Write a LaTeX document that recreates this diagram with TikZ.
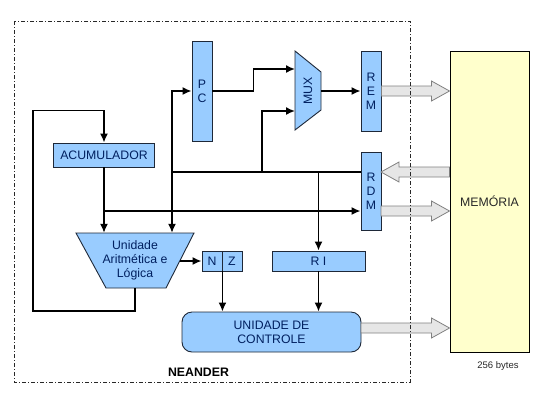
\documentclass[tikz,border=0pt]{standalone}
\usepackage{fontspec}
\setmainfont{Liberation Sans}
\usetikzlibrary{arrows.meta,calc}

% hollow bus arrow: #1 start, #2 tip, #3 direction (1 right, -1 left)
\newcommand{\busarrow}[3]{%
  \draw[bus] ($(#1)+(0,-5)$) -- ($(#2)+(-18*#3,-5)$) -- ($(#2)+(-18*#3,-10)$) -- (#2)
    -- ($(#2)+(-18*#3,10)$) -- ($(#2)+(-18*#3,5)$) -- ($(#1)+(0,5)$) -- cycle;%
}

\begin{document}
\begin{tikzpicture}[x=1pt,y=-1pt,
    unit/.style={draw=r30g40b56,line width=0.9pt,fill=r153g204b255,text=r0g32b96,
      font=\fontsize{12.3}{14}\selectfont,inner sep=0pt,align=center},
    unitshape/.style={draw=r30g40b56,line width=0.9pt,fill=r153g204b255},
    label/.style={text=r0g32b96,font=\fontsize{12.3}{14}\selectfont,inner sep=0pt,align=center},
    wire/.style={line width=1.6pt,-{Latex[length=9pt,width=8pt]}},
    plainwire/.style={line width=1.6pt},
    bus/.style={draw=r128g128b128,fill=r230g230b230,line width=0.8pt}]
  \definecolor{r30g40b56}{RGB}{30,40,56}%
  \definecolor{r153g204b255}{RGB}{153,204,255}%
  \definecolor{r0g32b96}{RGB}{0,32,96}%
  \definecolor{r255g255b204}{RGB}{255,255,204}%
  \definecolor{r128g128b128}{RGB}{128,128,128}%
  \definecolor{r230g230b230}{RGB}{230,230,230}%
  \definecolor{r40g40b40}{RGB}{40,40,40}%
  \useasboundingbox (0,0) rectangle (556,400);

  % Drawing registers
  \node[unit,minimum width=20,minimum height=100] (pc) at (202,91) {P\\C};
  \node[unit,minimum width=20,minimum height=80] (rem) at (371,91) {R\\E\\M};
  \node[unit,minimum width=20,minimum height=78] (rdm) at (371,191) {R\\D\\M};
  \node[unit,minimum width=101,minimum height=24] (acc) at (104,155) {ACUMULADOR};
  \node[unit,minimum width=20,minimum height=20] (flagn) at (212,261) {N};
  \node[unit,minimum width=20,minimum height=20] (flagz) at (232,261) {Z};
  \node[unit,minimum width=93,minimum height=20] (ri) at (318.5,261) {R I};
  \node[unit,minimum width=179,minimum height=40,rounded corners=10pt] (uc) at (271.5,332) {UNIDADE DE\\CONTROLE};

  % Drawing MUX and ULA
  \draw[unitshape] (295,51) -- (321,72) -- (321,110) -- (295,130) -- cycle;
  \node[label,rotate=90] (mux) at (308,91) {MUX};
  \draw[unitshape] (76,233) -- (194,233) -- (166,288) -- (106,288) -- cycle;
  \node[label,minimum width=60,minimum height=55] (alu) at (135,260.5) {Unidade\\Aritmética e\\Lógica};

  % Drawing memory
  \node[draw=black,line width=1pt,fill=r255g255b204,minimum width=79,minimum height=301,
    font=\fontsize{12.3}{14}\selectfont,text=r40g40b40] (mem) at (489.5,201.5) {MEMÓRIA};
  \node[font=\fontsize{9.5}{11}\selectfont,text=r40g40b40] (bytes) at (498,366) {256 bytes};

  % Drawing connections
  \coordinate (loop) at (33,311);
  \coordinate (accbus) at (104,211);
  \coordinate (bus) at (172,172);
  \coordinate (tomux) at (262,172);
  \coordinate (muxin1) at (295,69);
  \coordinate (muxin2) at (295,111);
  \coordinate (muxout) at (321,91);
  \coordinate (aluout) at (180,261);
  \coordinate (rdmout) at (rdm.west |- bus);
  \draw[wire] (alu.south) |- (loop) |- ($(acc.north)+(0,-32)$) -- (acc.north);
  \draw[plainwire] (acc.south) -- (accbus);
  \draw[wire] (accbus) -- (acc.south |- alu.north);
  \draw[wire] (accbus) -- (accbus -| rdm.west);
  \draw[plainwire] (rdmout) -- (bus);
  \draw[wire] (bus) |- (pc.west);
  \draw[wire] (bus) -- (bus |- alu.north);
  \draw[wire] (tomux) |- (muxin2);
  \draw[wire] (ri.north |- bus) -- (ri.north);
  \draw[wire] (pc.east) -- ++(41,0) |- (muxin1);
  \draw[wire] (muxout) -- (rem.west);
  \draw[wire] (aluout) -- (flagn.west);
  \draw[wire] (flagn.south east) -- (flagn.south east |- uc.north);
  \draw[wire] (ri.south) -- (ri.south |- uc.north);

  % Drawing bus arrows to memory
  \coordinate (remtip) at (rem.east -| mem.west);
  \coordinate (rdmin) at (381,172);
  \coordinate (memout) at (mem.west |- rdmin);
  \coordinate (rdmstart) at (381,211);
  \coordinate (rdmtip) at (mem.west |- rdmstart);
  \coordinate (ucout) at (361,328);
  \coordinate (uctip) at (mem.west |- ucout);
  \busarrow{rem.east}{remtip}{1}
  \busarrow{memout}{rdmin}{-1}
  \busarrow{rdmstart}{rdmtip}{1}
  \busarrow{ucout}{uctip}{1}

  % Drawing NEANDER border
  \draw[r40g40b40,line width=0.9pt,dash pattern=on 4pt off 2pt on 1pt off 2pt] (14,21) rectangle (410,382);
  \node[font=\bfseries\fontsize{12.3}{14}\selectfont] (neander) at (198.5,372) {NEANDER};
\end{tikzpicture}
\end{document}
